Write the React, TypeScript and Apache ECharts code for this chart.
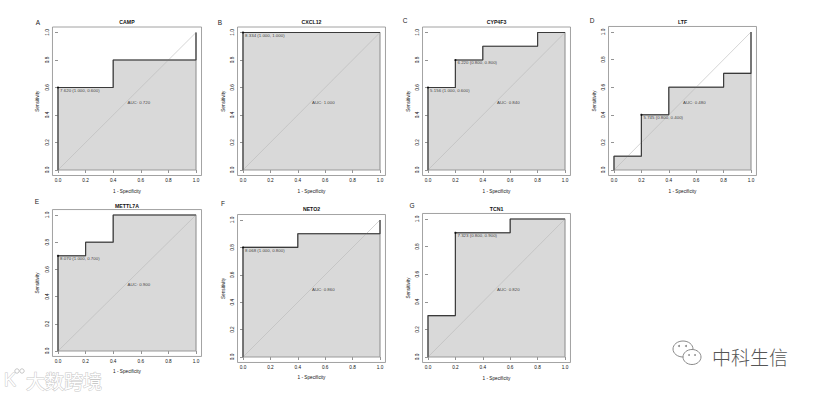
import React, { useEffect, useRef } from "react";
import * as echarts from "echarts";

// ---------- data ----------
const genes = ["CAMP", "CXCL12", "CYP4F3", "LTF", "METTL7A", "NETO2", "TCN1"];
const panelLetters = ["A", "B", "C", "D", "E", "F", "G"];
const tickValues = [0, 0.2, 0.4, 0.6, 0.8, 1.0];

// ROC step curves: x = 1 - specificity, y = sensitivity
const campFpr = [0, 0, 0.4, 0.4, 1, 1];
const campTpr = [0, 0.6, 0.6, 0.8, 0.8, 1];
const cxcl12Fpr = [0, 0, 1];
const cxcl12Tpr = [0, 1, 1];
const cyp4f3Fpr = [0, 0, 0.2, 0.2, 0.4, 0.4, 0.8, 0.8, 1];
const cyp4f3Tpr = [0, 0.6, 0.6, 0.8, 0.8, 0.9, 0.9, 1, 1];
const ltfFpr = [0, 0, 0.2, 0.2, 0.4, 0.4, 0.8, 0.8, 1, 1];
const ltfTpr = [0, 0.1, 0.1, 0.4, 0.4, 0.6, 0.6, 0.7, 0.7, 1];
const mettl7aFpr = [0, 0, 0.2, 0.2, 0.4, 0.4, 1];
const mettl7aTpr = [0, 0.7, 0.7, 0.8, 0.8, 1, 1];
const neto2Fpr = [0, 0, 0.4, 0.4, 1, 1];
const neto2Tpr = [0, 0.8, 0.8, 0.9, 0.9, 1];
const tcn1Fpr = [0, 0, 0.2, 0.2, 0.6, 0.6, 1];
const tcn1Tpr = [0, 0.3, 0.3, 0.9, 0.9, 1, 1];

const aucValues = [0.72, 1.0, 0.84, 0.48, 0.9, 0.86, 0.82];

// best thresholds: cutoff, specificity, sensitivity
const thrCutoffs = [[7.62], [8.334], [5.156, 6.22], [5.745], [8.07], [8.068], [7.323]];
const thrSpecificity = [[1], [1], [1, 0.8], [0.8], [1], [1], [0.8]];
const thrSensitivity = [[0.6], [1], [0.6, 0.8], [0.4], [0.7], [0.8], [0.9]];

const fprList = [campFpr, cxcl12Fpr, cyp4f3Fpr, ltfFpr, mettl7aFpr, neto2Fpr, tcn1Fpr];
const tprList = [campTpr, cxcl12Tpr, cyp4f3Tpr, ltfTpr, mettl7aTpr, neto2Tpr, tcn1Tpr];

// ---------- layout (pixel positions of data 0 and 1 on each panel) ----------
const panelLayout = [
  { x0: 58, x1: 196, yTop: 32.5, yBot: 170, titleY: 21.5, lx: 38, ly: 22 },
  { x0: 243, x1: 380, yTop: 32.5, yBot: 170, titleY: 21.5, lx: 220, ly: 22 },
  { x0: 428, x1: 565, yTop: 32.5, yBot: 170, titleY: 21.5, lx: 405, ly: 20 },
  { x0: 614, x1: 751, yTop: 32, yBot: 170, titleY: 21.5, lx: 592, ly: 20 },
  { x0: 58, x1: 196, yTop: 215, yBot: 351, titleY: 206, lx: 37, ly: 201 },
  { x0: 243, x1: 380, yTop: 220, yBot: 357, titleY: 209, lx: 223, ly: 203 },
  { x0: 428, x1: 565, yTop: 219, yBot: 357, titleY: 208.5, lx: 412, ly: 205 },
];

const FONT = "'Liberation Sans', Arial, Helvetica, sans-serif";
const TXT = "#111";
const FS = 4.7;

function buildOption() {
  const grid: any[] = [];
  const xAxis: any[] = [];
  const yAxis: any[] = [];
  const series: any[] = [];
  const graphic: any[] = [];

  genes.forEach((gene, i) => {
    const L = panelLayout[i];
    const w = L.x1 - L.x0;
    const h = L.yBot - L.yTop;
    grid.push({
      left: L.x0 - 0.04 * w,
      top: L.yTop - 0.04 * h,
      width: 1.08 * w,
      height: 1.08 * h,
      show: true,
      borderColor: "#8a8a8a",
      borderWidth: 0.8,
      backgroundColor: "transparent",
    });
    xAxis.push({
      gridIndex: i,
      type: "value",
      min: -0.04,
      max: 1.04,
      axisLine: { show: false },
      splitLine: { show: false },
      axisTick: {
        show: true,
        length: 3,
        customValues: tickValues,
        lineStyle: { color: "#666", width: 0.7 },
      },
      axisLabel: {
        customValues: tickValues,
        formatter: (v: number) => v.toFixed(1),
        fontSize: FS,
        color: TXT,
        margin: 2.5,
        fontFamily: FONT,
      },
      name: "1 - Specificity",
      nameLocation: "middle",
      nameGap: 13,
      nameTextStyle: { fontSize: FS, color: TXT, fontFamily: FONT },
    });
    yAxis.push({
      gridIndex: i,
      type: "value",
      min: -0.04,
      max: 1.04,
      axisLine: { show: false },
      splitLine: { show: false },
      axisTick: {
        show: true,
        length: 3,
        customValues: tickValues,
        lineStyle: { color: "#666", width: 0.7 },
      },
      axisLabel: {
        customValues: tickValues,
        formatter: (v: number) => v.toFixed(1),
        fontSize: FS,
        color: TXT,
        margin: 2.5,
        rotate: 90,
        fontFamily: FONT,
      },
      name: "Sensitivity",
      nameLocation: "middle",
      nameRotate: 90,
      nameGap: 12,
      nameTextStyle: { fontSize: FS, color: TXT, fontFamily: FONT },
    });

    const pts = fprList[i].map((x, k) => [x, tprList[i][k]]);
    const border = pts.concat([[1, 0], [0, 0]]);

    series.push({
      type: "line",
      xAxisIndex: i,
      yAxisIndex: i,
      data: pts,
      symbol: "none",
      lineStyle: { width: 0 },
      areaStyle: { color: "#d9d9d9", opacity: 1, origin: "auto" },
      z: 1,
      silent: true,
    });
    series.push({
      type: "line",
      xAxisIndex: i,
      yAxisIndex: i,
      data: border,
      symbol: "none",
      lineStyle: { width: 1.2, color: "#9a9a9a" },
      z: 2,
      silent: true,
    });
    series.push({
      type: "line",
      xAxisIndex: i,
      yAxisIndex: i,
      data: [[0, 0], [1, 1]],
      symbol: "none",
      lineStyle: { width: 0.6, color: "#b8b8b8" },
      z: 3,
      silent: true,
    });
    series.push({
      type: "line",
      xAxisIndex: i,
      yAxisIndex: i,
      data: pts,
      symbol: "none",
      lineStyle: { width: 1.1, color: "#3a3a3a" },
      z: 4,
      silent: true,
    });
    series.push({
      type: "scatter",
      xAxisIndex: i,
      yAxisIndex: i,
      symbolSize: 2.2,
      itemStyle: { color: "#000" },
      z: 5,
      silent: true,
      data: thrCutoffs[i].map((c, k) => ({
        name: `${c.toFixed(3)} (${thrSpecificity[i][k].toFixed(3)}, ${thrSensitivity[i][k].toFixed(3)})`,
        value: [1 - thrSpecificity[i][k], thrSensitivity[i][k]],
      })),
      label: {
        show: true,
        position: "right",
        distance: 1,
        offset: [0, 2.8],
        formatter: (p: any) => p.name,
        fontSize: FS - 0.3,
        color: TXT,
        fontFamily: FONT,
      },
    });
    series.push({
      type: "scatter",
      xAxisIndex: i,
      yAxisIndex: i,
      symbolSize: 1,
      itemStyle: { color: "rgba(0,0,0,0)" },
      z: 5,
      silent: true,
      data: [{ name: `AUC: ${aucValues[i].toFixed(3)}`, value: [0.5, 0.5] }],
      label: {
        show: true,
        position: "right",
        distance: 0,
        offset: [0, 1],
        formatter: (p: any) => p.name,
        fontSize: FS - 0.3,
        color: TXT,
        fontFamily: FONT,
      },
    });

    graphic.push({
      type: "text",
      x: (L.x0 + L.x1) / 2,
      y: L.titleY,
      style: {
        text: gene,
        align: "center",
        verticalAlign: "middle",
        font: `bold 5.2px ${FONT}`,
        fill: "#111",
      },
    });
    graphic.push({
      type: "text",
      x: L.lx,
      y: L.ly,
      style: {
        text: panelLetters[i],
        align: "center",
        verticalAlign: "middle",
        font: `6.5px ${FONT}`,
        fill: "#222",
      },
    });
  });

  // watermarks
  graphic.push({
    type: "text",
    x: 26,
    y: 380,
    style: {
      text: "大数跨境",
      align: "left",
      verticalAlign: "middle",
      font: `19px 'Noto Sans CJK SC', sans-serif`,
      fill: "#ffffff",
      stroke: "#c8c8c8",
      lineWidth: 1,
    },
  });
  graphic.push({
    type: "text",
    x: 4,
    y: 380,
    style: {
      text: "K",
      align: "left",
      verticalAlign: "middle",
      font: `18px ${FONT}`,
      fill: "#ffffff",
      stroke: "#c8c8c8",
      lineWidth: 1,
    },
  });
  graphic.push({ type: "circle", shape: { cx: 17, cy: 371, r: 2.2 }, style: { fill: "none", stroke: "#c8c8c8", lineWidth: 1 } });
  graphic.push({ type: "circle", shape: { cx: 22, cy: 371, r: 2.2 }, style: { fill: "none", stroke: "#c8c8c8", lineWidth: 1 } });

  graphic.push({ type: "ellipse", shape: { cx: 683, cy: 349, rx: 10, ry: 8 }, style: { fill: "#fff", stroke: "#8a8a8a", lineWidth: 1 } });
  graphic.push({ type: "ellipse", shape: { cx: 692, cy: 357, rx: 9, ry: 7.5 }, style: { fill: "#fff", stroke: "#8a8a8a", lineWidth: 1 } });
  graphic.push({ type: "circle", shape: { cx: 679, cy: 346, r: 1 }, style: { fill: "#8a8a8a" } });
  graphic.push({ type: "circle", shape: { cx: 686, cy: 346, r: 1 }, style: { fill: "#8a8a8a" } });
  graphic.push({ type: "circle", shape: { cx: 689, cy: 355, r: 0.9 }, style: { fill: "#8a8a8a" } });
  graphic.push({ type: "circle", shape: { cx: 695, cy: 355, r: 0.9 }, style: { fill: "#8a8a8a" } });
  graphic.push({
    type: "text",
    x: 712,
    y: 356,
    style: {
      text: "中科生信",
      align: "left",
      verticalAlign: "middle",
      font: `300 19px 'Noto Sans CJK SC', sans-serif`,
      fill: "#555",
    },
  });

  return {
    animation: false,
    backgroundColor: "#ffffff",
    grid,
    xAxis,
    yAxis,
    series,
    graphic,
  };
}

export default function App() {
  const ref = useRef<HTMLDivElement>(null);
  useEffect(() => {
    if (!ref.current) return;
    const chart = echarts.init(ref.current, undefined, { renderer: "svg" });
    chart.setOption(buildOption() as any);
    return () => chart.dispose();
  }, []);
  return (
    <div
      ref={ref}
      style={{ position: "fixed", left: 0, top: 0, width: 816, height: 393, background: "#fff" }}
    />
  );
}
